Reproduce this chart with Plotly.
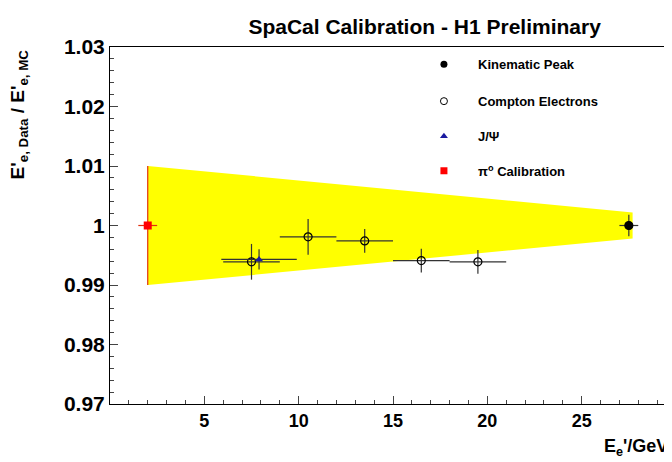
import plotly.graph_objects as go

# band
band_x = [2.0, 27.7]
band_half = [0.010, 0.0022]

pi0_x, pi0_y, pi0_ex, pi0_ey = [2.0], [1.000], [0.5], [0.010]
jpsi_x, jpsi_y, jpsi_ex, jpsi_ey = [7.9], [0.9943], [2.0], [0.0017]
comp_x = [7.5, 10.5, 13.5, 16.5, 19.5]
comp_y = [0.9939, 0.9981, 0.9974, 0.9941, 0.9939]
comp_ex = [1.5, 1.5, 1.5, 1.5, 1.5]
comp_ey = [0.003, 0.003, 0.002, 0.002, 0.002]
kin_x, kin_y, kin_ex, kin_ey = [27.5], [1.000], [0.5], [0.0018]

F = "Liberation Sans"
fig = go.Figure()
fig.add_trace(go.Scatter(
    x=[band_x[0], band_x[1], band_x[1], band_x[0]],
    y=[1 + band_half[0], 1 + band_half[1], 1 - band_half[1], 1 - band_half[0]],
    fill="toself", fillcolor="#ffff00", line=dict(width=0), mode="lines",
    hoverinfo="skip", showlegend=False))

def pts(x, y, ex, ey, sym, col, ecol, lw=1.2, size=8):
    fig.add_trace(go.Scatter(
        x=x, y=y, mode="markers", showlegend=False,
        marker=dict(symbol=sym, color=col, size=size, line=dict(color="black", width=lw)),
        error_x=dict(type="data", array=ex, color=ecol, thickness=1.2, width=0),
        error_y=dict(type="data", array=ey, color=ecol, thickness=1.2, width=0)))

pts(comp_x, comp_y, comp_ex, comp_ey, "circle-open", "black", "#333333")
pts(pi0_x, pi0_y, pi0_ex, pi0_ey, "square", "red", "#e03010", lw=0)
pts(kin_x, kin_y, kin_ex, kin_ey, "circle", "black", "#333333")
pts(jpsi_x, jpsi_y, jpsi_ex, jpsi_ey, "triangle-up", "#1a1aa0", "#333333", lw=0, size=7)

# legend
leg_y = [1.0271, 1.0209, 1.0150, 1.0092]
leg_sym = ["circle", "circle-open", "triangle-up", "square"]
leg_col = ["black", "black", "#1a1aa0", "red"]
leg_txt = ["Kinematic Peak", "Compton Electrons", "J/Ψ", "π<sup>o</sup> Calibration"]
fig.add_trace(go.Scatter(x=[17.7] * 4, y=leg_y, mode="markers", showlegend=False,
                         marker=dict(symbol=leg_sym, color=leg_col, size=7)))
for yy, t in zip(leg_y, leg_txt):
    fig.add_annotation(x=19.4, y=yy, text="<b>" + t + "</b>", showarrow=False,
                       xanchor="left", font=dict(family=F, size=13, color="black"))

fig.update_layout(
    width=672, height=462, plot_bgcolor="white", paper_bgcolor="white",
    margin=dict(l=102, r=4, t=39, b=66),
    title=dict(text="<b>SpaCal Calibration - H1 Preliminary</b>", x=0.62, y=0.975,
               font=dict(family=F, size=21, color="black")),
    font=dict(family=F, color="black"),
)
fig.update_xaxes(range=[0, 30], tickvals=[5, 10, 15, 20, 25, 30],
                 ticktext=["<b>5</b>", "<b>10</b>", "<b>15</b>", "<b>20</b>", "<b>25</b>", "<b>30</b>"],
                 showgrid=False, zeroline=False, showline=True, linecolor="black", mirror=True,
                 ticks="inside", ticklen=8, minor=dict(ticks="inside", ticklen=4, dtick=1),
                 tickfont=dict(family=F, size=18, color="black"))
fig.update_yaxes(range=[0.97, 1.03], tickvals=[0.97, 0.98, 0.99, 1.0, 1.01, 1.02, 1.03],
                 ticktext=["<b>0.97</b>", "<b>0.98</b>", "<b>0.99</b>", "<b>1</b>", "<b>1.01</b>", "<b>1.02</b>", "<b>1.03</b>"],
                 showgrid=False, zeroline=False, showline=True, linecolor="black", mirror=True,
                 ticks="inside", ticklen=8, minor=dict(ticks="inside", ticklen=4, dtick=0.002),
                 tickfont=dict(family=F, size=21, color="black"))
fig.add_annotation(xref="paper", yref="paper", x=0.99, y=-0.085, xanchor="right", yanchor="top",
                   showarrow=False, text="<b>E<sub>e</sub>'/GeV</b>", font=dict(family=F, size=18))
fig.add_annotation(xref="paper", yref="paper", x=-0.16, y=1.0, xanchor="center", yanchor="top",
                   showarrow=False, textangle=-90,
                   text="<b>E'<sub>e, Data</sub> / E'<sub>e, MC</sub></b>", font=dict(family=F, size=19))
fig.write_html("out.html")
